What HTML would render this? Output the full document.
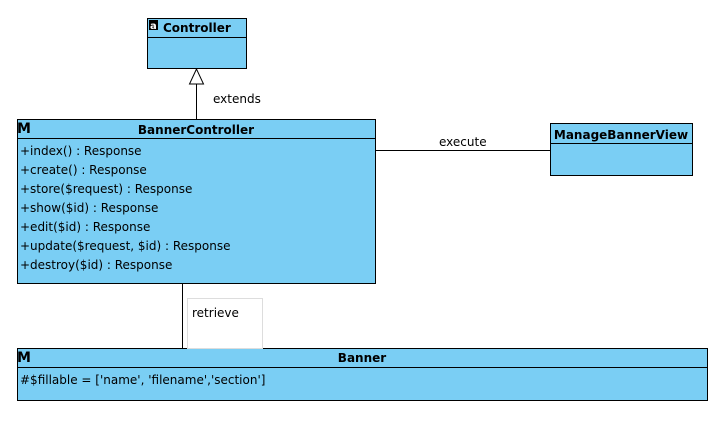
<!DOCTYPE html>
<html><head><style>
body{margin:0;background:#fff;width:724px;height:427px;overflow:hidden}
svg text{font-family:"DejaVu Sans","Liberation Sans",sans-serif;font-size:12px;fill:#000}
</style></head><body>
<svg width="724" height="427" xmlns="http://www.w3.org/2000/svg">
<g stroke="#000" stroke-width="1" fill="#7acef4">
<rect x="147.5" y="18.5" width="99" height="50"/>
<line x1="147" y1="37.5" x2="247" y2="37.5"/>
<rect x="17.5" y="119.5" width="358" height="164"/>
<line x1="17" y1="138.5" x2="376" y2="138.5"/>
<rect x="550.5" y="123.5" width="142" height="52"/>
<line x1="550" y1="143.5" x2="693" y2="143.5"/>
<rect x="17.5" y="348.5" width="690" height="52"/>
<line x1="17" y1="367.5" x2="708" y2="367.5"/>
</g>
<rect x="187.5" y="298.5" width="75" height="50" fill="#fff" stroke="#ddd"/>
<g stroke="#000" fill="none">
<line x1="196.5" y1="84" x2="196.5" y2="119"/>
<polygon points="196.5,69 189.5,84 203.5,84" fill="#fff"/>
<line x1="376" y1="150.5" x2="550" y2="150.5"/>
<line x1="182.5" y1="284" x2="182.5" y2="348"/>
</g>
<rect x="149" y="20" width="9" height="10" fill="#000"/>
<text x="150" y="29" style="font-size:10px;fill:#fff;font-weight:bold">a</text>
<text x="163" y="32" style="font-weight:bold">Controller</text>
<text x="213" y="103">extends</text>
<text x="17" y="133" style="font-weight:bold;font-size:14px">M</text>
<text x="196" y="134" text-anchor="middle" style="font-weight:bold">BannerController</text>
<text x="20" y="155">+index() : Response</text>
<text x="20" y="174">+create() : Response</text>
<text x="20" y="193">+store($request) : Response</text>
<text x="20" y="212">+show($id) : Response</text>
<text x="20" y="231">+edit($id) : Response</text>
<text x="20" y="250">+update($request, $id) : Response</text>
<text x="20" y="269">+destroy($id) : Response</text>
<text x="439" y="146">execute</text>
<text x="621" y="139" text-anchor="middle" style="font-weight:bold">ManageBannerView</text>
<text x="192" y="317">retrieve</text>
<text x="17" y="362" style="font-weight:bold;font-size:14px">M</text>
<text x="362" y="362" text-anchor="middle" style="font-weight:bold">Banner</text>
<text x="20" y="384">#$fillable = ['name', 'filename','section']</text>
</svg>
</body></html>
